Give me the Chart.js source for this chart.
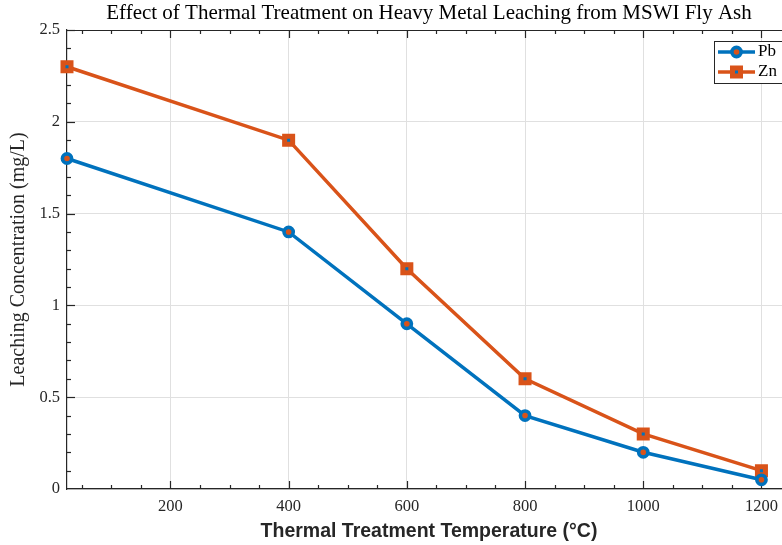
<!DOCTYPE html>
<html><head><meta charset="utf-8">
<script src="https://cdn.jsdelivr.net/npm/chart.js@4"></script>
<style>
html,body{margin:0;padding:0;overflow:hidden;background:#fff;width:782px;height:545px}
#wrap{width:858px;height:545px;position:relative}
canvas{display:block}
</style></head>
<body><div id="wrap"><canvas id="c" width="858" height="545"></canvas></div>
<script>
const temperatures = [25, 400, 600, 800, 1000, 1200];
const pbValues = [1.8, 1.4, 0.9, 0.4, 0.2, 0.05];
const znValues = [2.3, 1.9, 1.2, 0.6, 0.3, 0.1];
const xTickValues = [200, 400, 600, 800, 1000, 1200];
const yTickValues = [0, 0.5, 1, 1.5, 2, 2.5];
const yTickLabels = ['0', '0.5', '1', '1.5', '2', '2.5'];
const seriesNames = ['Pb', 'Zn'];
const titleText = 'Effect of Thermal Treatment on Heavy Metal Leaching from MSWI Fly Ash';
const xTitle = 'Thermal Treatment Temperature (°C)';
const yTitle = 'Leaching Concentration (mg/L)';

const BLUE = '#0072BD', ORANGE = '#D95319', AXIS = '#262626';
const SERIF = "'Liberation Serif', serif";

const toPts = vals => temperatures.map((t, i) => ({x: t, y: vals[i]}));

const axisDecor = {
  id: 'axisDecor',
  beforeDatasetsDraw(chart) {
    const {ctx, chartArea: a, scales: {x, y}} = chart;
    ctx.save();
    ctx.strokeStyle = AXIS;
    ctx.lineWidth = 1.2;
    const seg = (x1, y1, x2, y2) => { ctx.beginPath(); ctx.moveTo(x1, y1); ctx.lineTo(x2, y2); ctx.stroke(); };
    seg(a.left, a.top + 0.5, a.right, a.top + 0.5);
    for (let v = 50; v <= x.max; v += 50) {
      const px = Math.round(x.getPixelForValue(v)) + 0.5;
      const len = xTickValues.includes(v) ? 8 : 4;
      seg(px, a.bottom, px, a.bottom - len);
      seg(px, a.top, px, a.top + len);
    }
    for (let i = 1; i <= 25; i++) {
      const v = i / 10;
      const py = Math.round(y.getPixelForValue(v)) + 0.5;
      const len = (i % 5 === 0) ? 8 : 4;
      seg(a.left, py, a.left + len, py);
    }
    ctx.restore();
  }
};

const legendBox = {
  id: 'legendBox',
  afterDraw(chart) {
    const {ctx} = chart;
    const lx = 714, ly = 41, lw = 120, lh = 42;
    ctx.save();
    ctx.fillStyle = '#fff';
    ctx.fillRect(lx, ly, lw, lh);
    ctx.strokeStyle = AXIS;
    ctx.lineWidth = 1;
    ctx.strokeRect(lx + 0.5, ly + 0.5, lw, lh);
    const rowsY = [52, 72];
    chart.data.datasets.forEach((ds, i) => {
      const yy = rowsY[i];
      ctx.strokeStyle = ds.borderColor;
      ctx.lineWidth = ds.borderWidth;
      ctx.beginPath(); ctx.moveTo(718, yy); ctx.lineTo(755, yy); ctx.stroke();
      ctx.fillStyle = ds.pointBackgroundColor;
      ctx.strokeStyle = ds.pointBorderColor;
      ctx.lineWidth = ds.pointBorderWidth;
      Chart.helpers.drawPoint(ctx, {pointStyle: ds.pointStyle, radius: ds.pointRadius, borderWidth: ds.pointBorderWidth, rotation: 0}, 736.5, yy);
      ctx.fillStyle = '#000';
      ctx.font = '17px ' + SERIF;
      ctx.textBaseline = 'middle';
      ctx.textAlign = 'left';
      ctx.fillText(ds.label, 758, yy);
    });
    ctx.restore();
  }
};

new Chart(document.getElementById('c'), {
  type: 'scatter',
  data: {
    datasets: [
      {
        label: seriesNames[0], data: toPts(pbValues), showLine: true,
        borderColor: BLUE, borderWidth: 3.5,
        pointStyle: 'circle', pointRadius: 4.6, pointBorderWidth: 3.6,
        pointBorderColor: BLUE, pointBackgroundColor: ORANGE, clip: false
      },
      {
        label: seriesNames[1], data: toPts(znValues), showLine: true,
        borderColor: ORANGE, borderWidth: 3.5,
        pointStyle: 'rect', pointRadius: 5.66, pointBorderWidth: 5,
        pointBorderColor: ORANGE, pointBackgroundColor: BLUE, clip: false
      }
    ]
  },
  options: {
    responsive: false, animation: false, devicePixelRatio: 1,
    layout: {padding: 0},
    plugins: {
      legend: {display: false},
      tooltip: {enabled: false},
      title: {
        display: true, text: titleText, color: '#000',
        font: {family: SERIF, size: 21, weight: 'normal'},
        padding: {top: 1, bottom: 3.8}
      }
    },
    scales: {
      x: {
        type: 'linear', position: 'bottom', min: 25, max: 1250,
        afterBuildTicks: s => { s.ticks = xTickValues.map(v => ({value: v})); },
        afterFit: s => { s.height = 56; },
        ticks: {color: AXIS, font: {family: SERIF, size: 16.5}, padding: 8, maxRotation: 0, callback: v => String(v)},
        grid: {color: '#e0e0e0', lineWidth: 1, drawTicks: false, tickLength: 0},
        border: {display: true, color: AXIS, width: 1.2},
        title: {display: true, text: xTitle, color: AXIS, font: {family: "'Liberation Sans', Arial, sans-serif", size: 19.5, weight: 'bold'}, padding: {top: 0, bottom: 2}}
      },
      y: {
        type: 'linear', position: 'left', min: 0, max: 2.5,
        afterBuildTicks: s => { s.ticks = yTickValues.map(v => ({value: v})); },
        afterFit: s => { s.width = 67; },
        ticks: {color: AXIS, font: {family: SERIF, size: 16.5}, padding: 7, callback: v => yTickLabels[yTickValues.indexOf(v)]},
        grid: {color: '#e0e0e0', lineWidth: 1, drawTicks: false, tickLength: 0},
        border: {display: true, color: AXIS, width: 1.2},
        title: {display: true, text: yTitle, color: AXIS, font: {family: SERIF, size: 20, weight: 'normal'}, padding: {top: 7, bottom: 0}}
      },
      y2: {
        type: 'linear', position: 'right', display: true,
        afterFit: s => { s.width = 67; },
        ticks: {display: false},
        grid: {display: false, drawTicks: false},
        border: {display: false}
      }
    }
  },
  plugins: [axisDecor, legendBox]
});
</script>
</body></html>
